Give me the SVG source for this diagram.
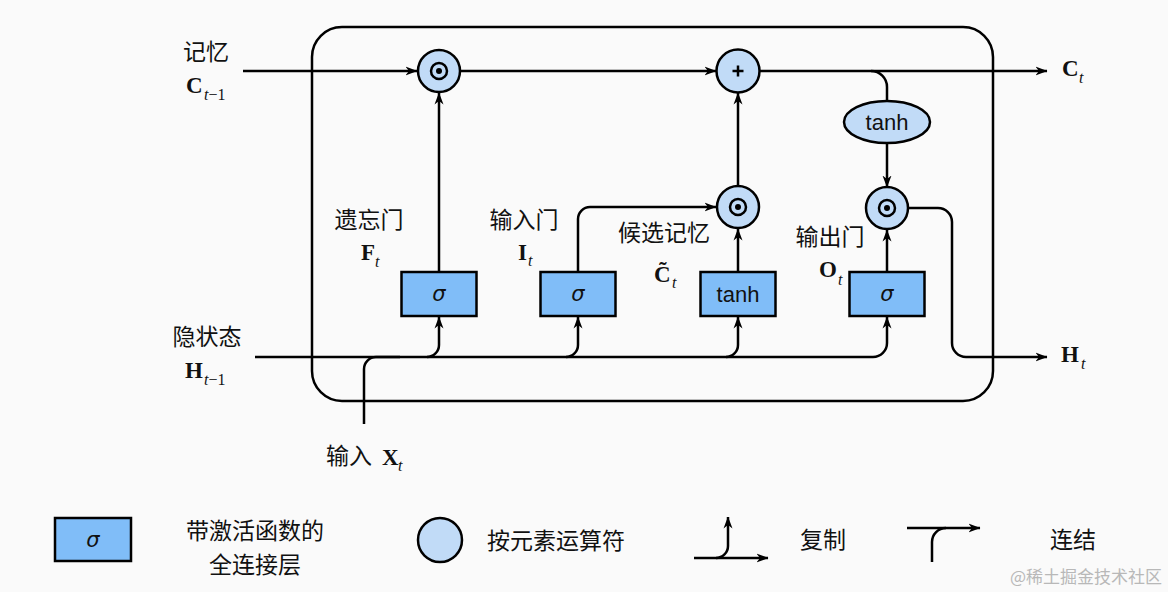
<svg xmlns="http://www.w3.org/2000/svg" width="1168" height="592" viewBox="0 0 1168 592">
<defs>
<marker id="arr" viewBox="0 0 12 10" refX="11.5" refY="5" markerWidth="12" markerHeight="10" markerUnits="userSpaceOnUse" orient="auto">
<path d="M0,0.5 L12,5 L0,9.5 L3.5,5 Z" fill="#000"/>
</marker>
<style>
.ln{fill:none;stroke:#000;stroke-width:2.5}
.ar{fill:none;stroke:#000;stroke-width:2.5;marker-end:url(#arr)}
.box{fill:#80bdf8;stroke:#000;stroke-width:2.5}
.cir{fill:#c1dbf7;stroke:#000;stroke-width:2.5}
.in{fill:none;stroke:#000;stroke-width:2.5}
.zh{font-family:"Noto Sans CJK SC","Noto Sans",sans-serif;font-size:23px;fill:#111}
.sg{font-family:"DejaVu Sans",sans-serif;font-style:italic;font-size:21px;fill:#111}
.th{font-family:"Liberation Sans",Arial,sans-serif;font-size:22px;fill:#111}
.bv{font-family:"Liberation Serif","Times New Roman",serif;font-weight:bold;font-size:23px;fill:#111}
.sb{font-family:"Liberation Serif","Times New Roman",serif;font-style:italic;font-size:16px;fill:#111}
.up{font-style:normal}
.wm{font-family:"Noto Sans CJK SC","Noto Sans",sans-serif;font-size:17px;fill:#b8b8b8}
</style>
</defs>
<rect width="1168" height="592" fill="#fafafa"/>

<g id="cell">
<rect x="312" y="27" width="681" height="374" rx="30" ry="30" class="ln"/>
</g>

<g id="connectors">
<path class="ar" d="M243,71 H417"/>
<path class="ar" d="M460,71 H716"/>
<path class="ar" d="M760,71 H1047"/>
<path class="ln" d="M871,71 A16,16 0 0 1 887,87 V101"/>
<path class="ar" d="M887,143 V187"/>
<path class="ar" d="M908,208 H938 A14,14 0 0 1 952,222 V343 A14,14 0 0 0 966,357 H1047"/>
<path class="ar" d="M255,357 H873 A14,14 0 0 0 887,343 V317"/>
<path class="ar" d="M427,357 A12,12 0 0 0 439,345 V317"/>
<path class="ar" d="M566,357 A12,12 0 0 0 578,345 V317"/>
<path class="ar" d="M726,357 A12,12 0 0 0 738,345 V317"/>
<path class="ln" d="M364,424 V369 A12,12 0 0 1 376,357 H400"/>
<path class="ar" d="M439,272 V93"/>
<path class="ar" d="M578,272 V219 A12,12 0 0 1 590,207 H716"/>
<path class="ar" d="M738,272 V229"/>
<path class="ar" d="M738,186 V93"/>
<path class="ar" d="M887,273 V230"/>
</g>

<g id="forget-mul">
<circle cx="439" cy="71" r="21" class="cir"/>
<circle cx="439" cy="71" r="8" class="in"/>
<circle cx="439" cy="71" r="3" fill="#000"/>
</g>
<g id="add">
<circle cx="738" cy="71" r="21.5" class="cir"/>
<path d="M732.5,71 H743.5 M738,65.5 V76.5" class="ln" stroke-width="2"/>
</g>
<g id="input-mul">
<circle cx="738" cy="207" r="21" class="cir"/>
<circle cx="738" cy="207" r="8" class="in"/>
<circle cx="738" cy="207" r="3" fill="#000"/>
</g>
<g id="output-mul">
<circle cx="887" cy="208" r="21" class="cir"/>
<circle cx="887" cy="208" r="8" class="in"/>
<circle cx="887" cy="208" r="3" fill="#000"/>
</g>
<g id="tanh-ellipse">
<ellipse cx="887" cy="122" rx="43" ry="21" class="cir"/>
<text x="887" y="130" class="th" text-anchor="middle">tanh</text>
</g>

<g id="forget-gate">
<rect x="401.5" y="272" width="75" height="44" class="box"/>
<text x="439" y="301" class="sg" text-anchor="middle">σ</text>
</g>
<g id="input-gate">
<rect x="540.5" y="272" width="75" height="44" class="box"/>
<text x="578" y="301" class="sg" text-anchor="middle">σ</text>
</g>
<g id="candidate">
<rect x="700.5" y="272" width="75" height="44" class="box"/>
<text x="738" y="302" class="th" text-anchor="middle">tanh</text>
</g>
<g id="output-gate">
<rect x="849.5" y="272" width="75" height="44" class="box"/>
<text x="887" y="301" class="sg" text-anchor="middle">σ</text>
</g>

<g id="labels">
<text x="206" y="60" class="zh" text-anchor="middle">记忆</text>
<text x="186" y="93" class="bv">C</text><text x="204" y="100" class="sb">t<tspan class="up">−1</tspan></text>
<text x="369" y="228" class="zh" text-anchor="middle">遗忘门</text>
<text x="361" y="260" class="bv">F</text><text x="375" y="267" class="sb">t</text>
<text x="524" y="228" class="zh" text-anchor="middle">输入门</text>
<text x="518" y="260" class="bv">I</text><text x="528" y="266" class="sb">t</text>
<text x="664" y="241" class="zh" text-anchor="middle">候选记忆</text>
<text x="654" y="282" class="bv">C&#x303;</text><text x="672" y="288" class="sb">t</text>
<text x="830" y="245" class="zh" text-anchor="middle">输出门</text>
<text x="819" y="277" class="bv">O</text><text x="838" y="285" class="sb">t</text>
<text x="207" y="345" class="zh" text-anchor="middle">隐状态</text>
<text x="185" y="378" class="bv">H</text><text x="204" y="385" class="sb">t<tspan class="up">−1</tspan></text>
<text x="326" y="464" class="zh">输入</text>
<text x="382" y="465" class="bv">X</text><text x="398" y="471" class="sb">t</text>
<text x="1062" y="76" class="bv">C</text><text x="1079" y="83" class="sb">t</text>
<text x="1061" y="362" class="bv">H</text><text x="1081" y="369" class="sb">t</text>
</g>

<g id="legend">
<rect x="55" y="518" width="76" height="43" class="box"/>
<text x="93" y="547" class="sg" text-anchor="middle">σ</text>
<text x="255" y="539" class="zh" text-anchor="middle">带激活函数的</text>
<text x="255" y="573" class="zh" text-anchor="middle">全连接层</text>
<circle cx="440" cy="540" r="22" class="cir"/>
<text x="556" y="549" class="zh" text-anchor="middle">按元素运算符</text>
<path class="ar" d="M694,558 H768"/>
<path class="ar" d="M716,558 A12,12 0 0 0 728,546 V517"/>
<text x="823" y="548" class="zh" text-anchor="middle">复制</text>
<path class="ar" d="M907,528 H980"/>
<path class="ln" d="M932,562 V542 A14,14 0 0 1 946,528"/>
<text x="1073" y="548" class="zh" text-anchor="middle">连结</text>
<text x="1162" y="583" class="wm" text-anchor="end">@稀土掘金技术社区</text>
</g>
</svg>
